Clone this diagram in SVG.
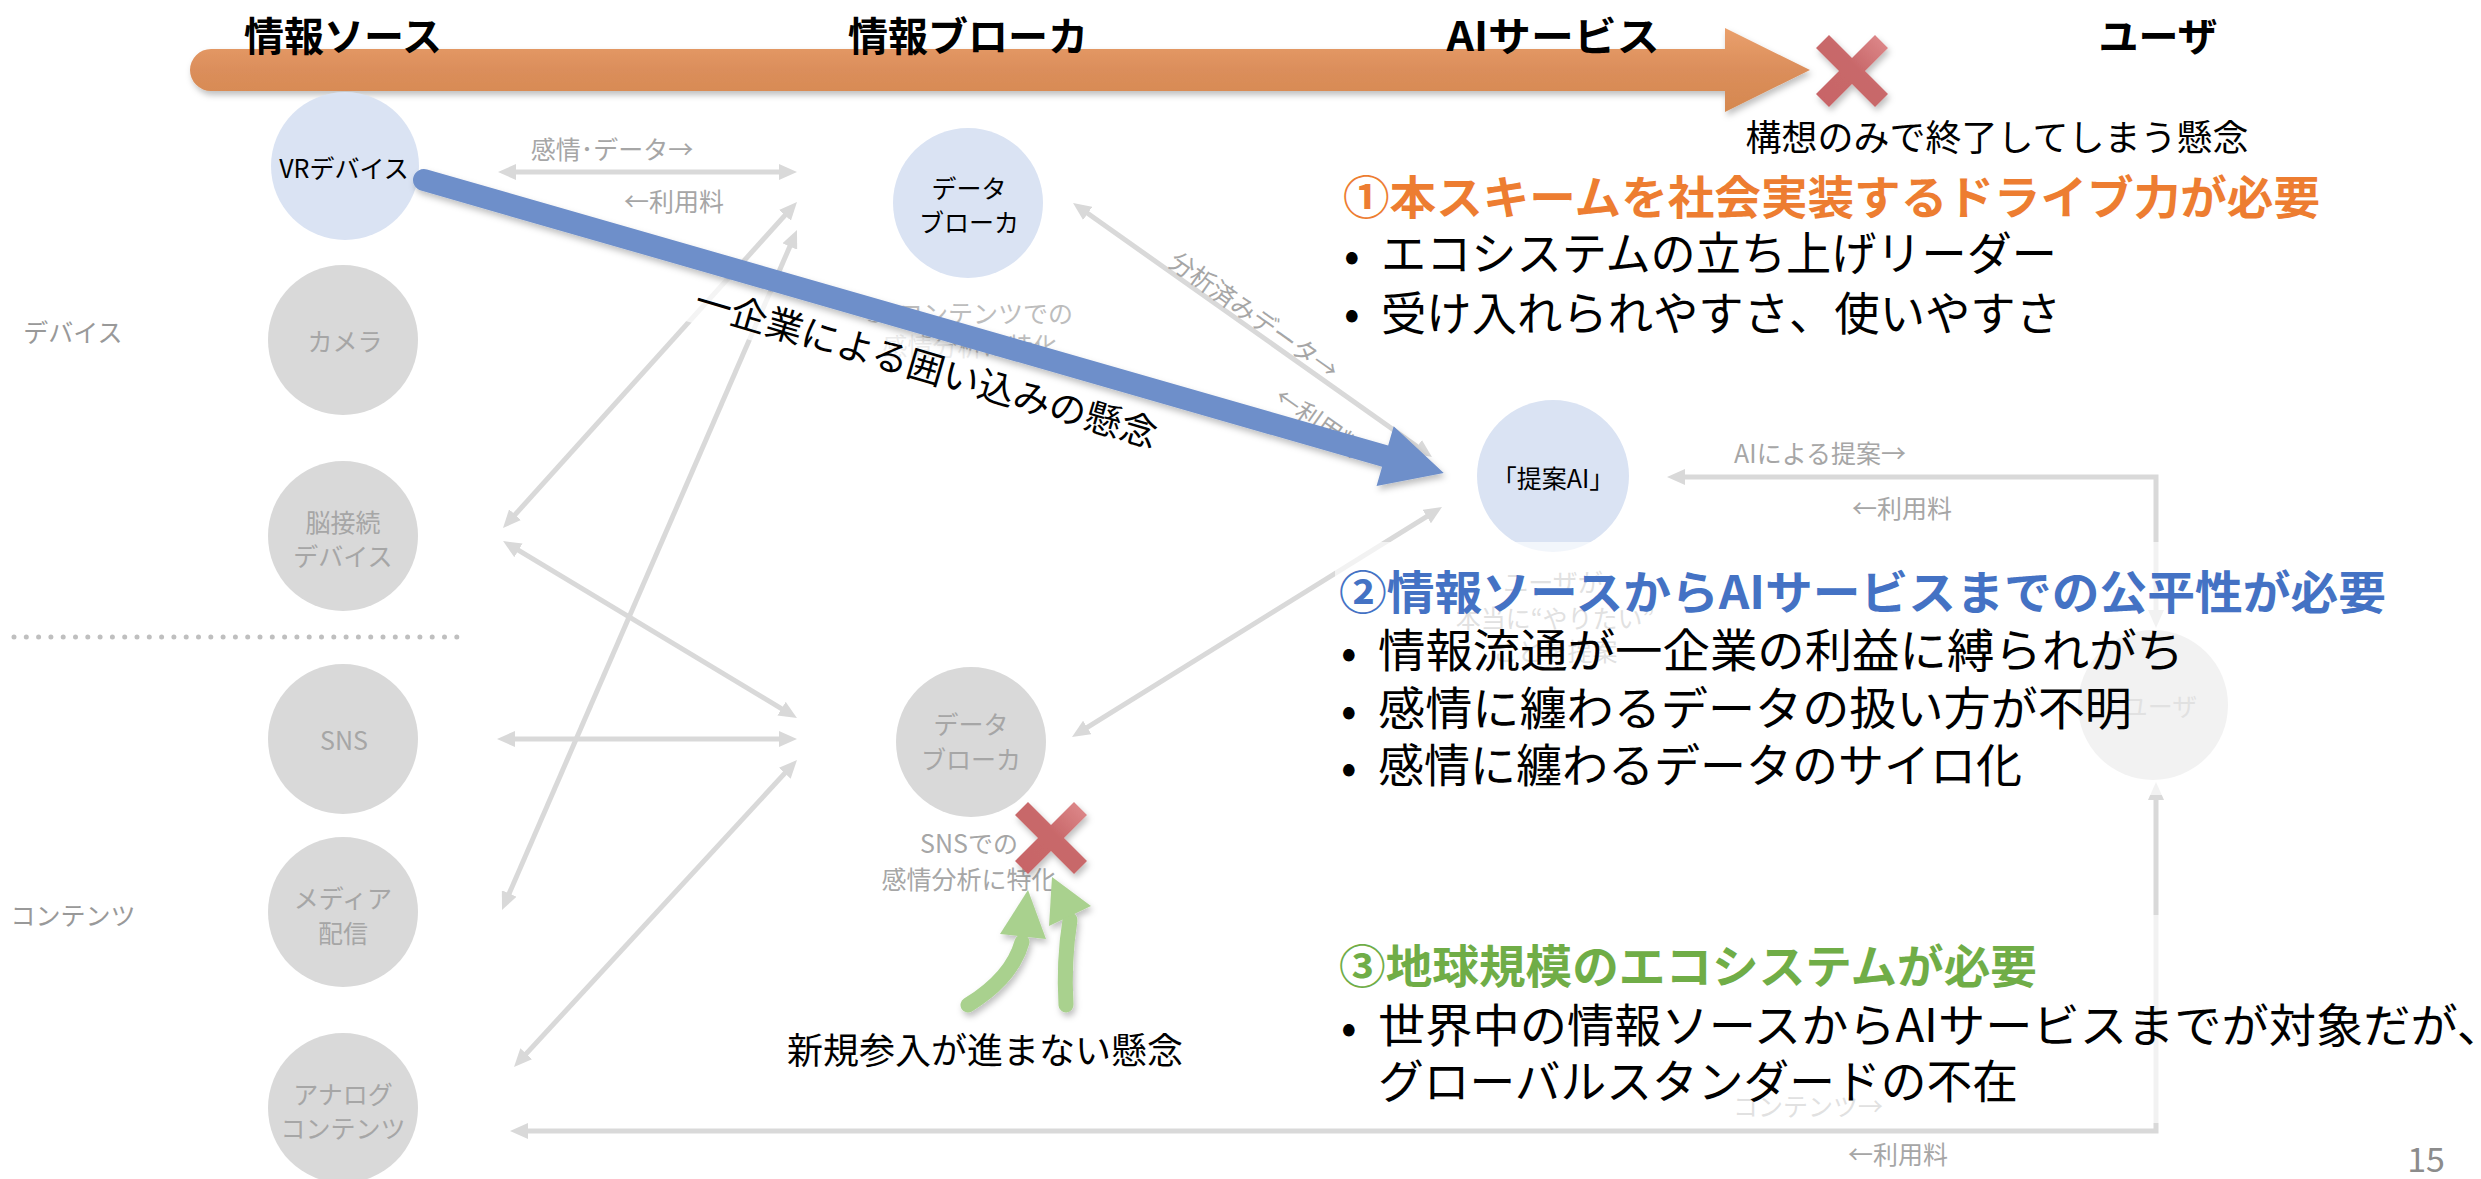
<svg xmlns="http://www.w3.org/2000/svg" width="2481" height="1179" viewBox="0 0 2481 1179">
<defs>
<style>
text{font-family:"Noto Sans CJK JP","Noto Sans",sans-serif;dominant-baseline:central;}
.hdr{font-size:40px;font-weight:700;fill:#000;text-anchor:middle;}
.nb{fill:#DAE3F3;}
.ng{fill:#D9D9D9;}
.tb{font-size:25px;fill:#000;text-anchor:middle;}
.tg{font-size:25px;fill:#A6A6A6;text-anchor:middle;}
.lbl{font-size:25px;fill:#A6A6A6;text-anchor:middle;}
.side{font-size:25px;fill:#999999;text-anchor:middle;}
.con{fill:none;stroke:#D9D9D9;stroke-width:5;marker-start:url(#ah);marker-end:url(#ah);}
.h1{font-size:46px;font-weight:700;}
.body{font-size:46px;fill:#000;}
.bul{font-size:46px;fill:#000;}
.note{font-size:36px;fill:#000;text-anchor:middle;}
.veil{fill:#FFFFFF;opacity:0.66;}
</style>
<marker id="ah" viewBox="0 0 18 16" refX="8" refY="8" markerWidth="18" markerHeight="16" markerUnits="userSpaceOnUse" orient="auto-start-reverse">
<path d="M0,0 L18,8 L0,16 Z" fill="#D9D9D9"/>
</marker>
<filter id="sh" x="-10%" y="-30%" width="120%" height="160%">
<feDropShadow dx="2" dy="4" stdDeviation="3" flood-color="#000" flood-opacity="0.25"/>
</filter>
<linearGradient id="gOr" x1="0" y1="0" x2="0" y2="1">
<stop offset="0" stop-color="#EAA06C"/>
<stop offset="0.5" stop-color="#DB8E5B"/>
<stop offset="1" stop-color="#D5884F"/>
</linearGradient>
<linearGradient id="gX" x1="1" y1="0" x2="0" y2="1">
<stop offset="0" stop-color="#E08C8E"/>
<stop offset="0.45" stop-color="#C8686A"/>
<stop offset="1" stop-color="#C86466"/>
</linearGradient>
<path id="xshape" d="M-36,-23 L-23,-36 L0,-13 L23,-36 L36,-23 L13,0 L36,23 L23,36 L0,13 L-23,36 L-36,23 L-13,0 Z"/>
</defs>

<rect x="0" y="0" width="2481" height="1179" fill="#FFFFFF"/>

<!-- top flow arrow -->
<g id="flow-arrow" filter="url(#sh)">
<path d="M1725,49 L211,49 A21,21 0 0 0 211,91 L1725,91 L1725,112 L1810,70 L1725,28 Z" fill="url(#gOr)"/>
</g>
<g id="stage-headers">
<text class="hdr" x="343" y="34">情報ソース</text>
<text class="hdr" x="968" y="34">情報ブローカ</text>
<text class="hdr" x="1553" y="34" textLength="213" lengthAdjust="spacingAndGlyphs">AIサービス</text>
<text class="hdr" x="2158" y="34">ユーザ</text>
</g>

<!-- side labels -->
<g id="side-labels">
<text class="side" x="73" y="331">デバイス</text>
<text class="side" x="73" y="914">コンテンツ</text>
<line x1="14" y1="637" x2="458" y2="637" stroke="#BFBFBF" stroke-width="5" stroke-linecap="round" stroke-dasharray="0 12.3"/>
</g>

<!-- connectors -->
<g id="connectors">
<line class="con" x1="508" y1="172" x2="787" y2="172"/>
<line class="con" x1="507" y1="739" x2="787" y2="739"/>
<line class="con" x1="509.7" y1="520.6" x2="790.3" y2="209.4"/>
<line class="con" x1="511.6" y1="546.2" x2="788.4" y2="712.8"/>
<line class="con" x1="793" y1="239.2" x2="506" y2="900.8"/>
<line class="con" x1="790.2" y1="767.4" x2="520.8" y2="1059.6"/>
<line class="con" x1="1081.2" y1="208.8" x2="1423.8" y2="451.2"/>
<line class="con" x1="1080.5" y1="731.7" x2="1433.5" y2="512.3"/>
<path class="con" d="M1677,477 L2156,477 L2156,618"/>
<path class="con" d="M2156,792 L2156,1131 L520,1131"/>
<text class="lbl" x="612" y="148">感情･データ→</text>
<text class="lbl" x="674" y="200">←利用料</text>
<text class="lbl" font-size="26" transform="translate(1255,314) rotate(35.3)">分析済みデータ→</text>
<text class="lbl" font-size="26" transform="translate(1320,421) rotate(35.3)">←利用料</text>
<text class="lbl" x="1820" y="452">AIによる提案→</text>
<text class="lbl" x="1902" y="507">←利用料</text>
<text class="lbl" x="1808" y="1105">コンテンツ→</text>
<text class="lbl" x="1898" y="1153">←利用料</text>
</g>

<!-- nodes -->
<g id="node-vr">
<circle class="nb" cx="345" cy="166" r="74"/>
<text class="tb" x="344" y="167">VRデバイス</text>
</g>
<g id="node-camera">
<circle class="ng" cx="343" cy="340" r="75"/>
<text class="tg" x="345" y="340">カメラ</text>
</g>
<g id="node-brain">
<circle class="ng" cx="343" cy="536" r="75"/>
<text class="tg" x="343" y="521">脳接続</text>
<text class="tg" x="343" y="555">デバイス</text>
</g>
<g id="node-sns">
<circle class="ng" cx="343" cy="739" r="75"/>
<text class="tg" x="344" y="739">SNS</text>
</g>
<g id="node-media">
<circle class="ng" cx="343" cy="912" r="75"/>
<text class="tg" x="343" y="897">メディア</text>
<text class="tg" x="343" y="932">配信</text>
</g>
<g id="node-analog">
<circle class="ng" cx="343" cy="1108" r="75"/>
<text class="tg" x="343" y="1093">アナログ</text>
<text class="tg" x="343" y="1127">コンテンツ</text>
</g>
<g id="node-broker-3d">
<circle class="nb" cx="968" cy="203" r="75"/>
<text class="tb" font-size="26" x="969" y="187">データ</text>
<text class="tb" font-size="26" x="969" y="221">ブローカ</text>
<text class="tg" font-size="27" fill="#BDBDBD" style="fill:#BDBDBD" x="970" y="312">3Dコンテンツでの</text>
<text class="tg" font-size="27" style="fill:#BDBDBD" x="970" y="345">感情分析に特化</text>
</g>
<g id="node-broker-sns">
<circle class="ng" cx="971" cy="742" r="75"/>
<text class="tg" font-size="26" x="971" y="723">データ</text>
<text class="tg" font-size="26" x="971" y="758">ブローカ</text>
<text class="tg" font-size="27" x="969" y="842">SNSでの</text>
<text class="tg" font-size="27" x="969" y="878">感情分析に特化</text>
</g>
<g id="node-ai">
<circle class="nb" cx="1553" cy="476" r="76"/>
<text class="tb" x="1553" y="477">「提案AI」</text>
<text class="tg" x="1553" y="581">ユーザが</text>
<text class="tg" x="1555" y="617">本当に“やりたい”</text>
<text class="tg" x="1555" y="650">ことを提案</text>
</g>
<g id="node-user">
<circle class="ng" cx="2153" cy="705" r="75"/>
<text class="tg" x="2160" y="705">ユーザ</text>
</g>

<!-- concern: lock-in -->
<g id="concern-lockin">
<rect x="-250" y="-26" width="500" height="52" fill="#FFFFFF" opacity="0.7" transform="translate(927,365) rotate(16.4)"/>
<g filter="url(#sh)">
<g transform="translate(424,180) rotate(16.03)">
<path d="M0,-11 L1000,-11 L1000,-31 L1061,0 L1000,31 L1000,11 L0,11 A11,11 0 0 1 0,-11 Z" fill="#6E8FCA"/>
</g>
</g>
<text font-size="37" fill="#000" text-anchor="middle" textLength="480" lengthAdjust="spacingAndGlyphs" transform="translate(927,365) rotate(16.4)">一企業による囲い込みの懸念</text>
</g>

<!-- concern: ends at concept -->
<g id="concern-concept">
<use href="#xshape" transform="translate(1852,71)" fill="url(#gX)" filter="url(#sh)"/>
<text class="note" x="1997" y="135">構想のみで終了してしまう懸念</text>
</g>

<!-- concern: new entrants -->
<g id="concern-entry">
<use href="#xshape" transform="translate(1051,838)" fill="url(#gX)" filter="url(#sh)"/>
<g filter="url(#sh)">
<path d="M968,1005 Q1012,978 1022,942" fill="none" stroke="#A9D18E" stroke-width="15" stroke-linecap="round"/>
<polygon points="1000,934 1028,890 1046,939" fill="#A9D18E"/>
<path d="M1066,1005 C1064,972 1066,945 1070,920" fill="none" stroke="#A9D18E" stroke-width="15" stroke-linecap="round"/>
<polygon points="1049,926 1052,877 1091,906" fill="#A9D18E"/>
</g>
<text class="note" font-size="37" x="985" y="1048">新規参入が進まない懸念</text>
</g>

<!-- block 1 -->
<g id="block-1">
<text class="h1" x="1343" y="194" fill="#ED7D31" textLength="977" lengthAdjust="spacingAndGlyphs">①本スキームを社会実装するドライブ力が必要</text>
<text class="bul" x="1344" y="252">•</text>
<text class="body" x="1381" y="250" textLength="676" lengthAdjust="spacingAndGlyphs">エコシステムの立ち上げリーダー</text>
<text class="bul" x="1344" y="310">•</text>
<text class="body" x="1381" y="310" textLength="680" lengthAdjust="spacingAndGlyphs">受け入れられやすさ、使いやすさ</text>
</g>

<!-- block 2 -->
<g id="block-2">
<rect class="veil" x="1335" y="542" width="1070" height="253"/>
<text class="h1" x="1339" y="589" fill="#4472C4" textLength="1047" lengthAdjust="spacingAndGlyphs">②情報ソースからAIサービスまでの公平性が必要</text>
<text class="bul" x="1341" y="649">•</text>
<text class="body" x="1378" y="647" textLength="806" lengthAdjust="spacingAndGlyphs">情報流通が一企業の利益に縛られがち</text>
<text class="bul" x="1341" y="707">•</text>
<text class="body" x="1378" y="705" textLength="754" lengthAdjust="spacingAndGlyphs">感情に纏わるデータの扱い方が不明</text>
<text class="bul" x="1341" y="764">•</text>
<text class="body" x="1378" y="762" textLength="644" lengthAdjust="spacingAndGlyphs">感情に纏わるデータのサイロ化</text>
</g>

<!-- block 3 -->
<g id="block-3">
<rect class="veil" x="1335" y="915" width="1146" height="208"/>
<text class="h1" x="1339" y="963" fill="#70AD47" textLength="698" lengthAdjust="spacingAndGlyphs">③地球規模のエコシステムが必要</text>
<text class="bul" x="1341" y="1024">•</text>
<text class="body" x="1378" y="1022" textLength="1126" lengthAdjust="spacingAndGlyphs">世界中の情報ソースからAIサービスまでが対象だが、</text>
<text class="body" x="1378" y="1078" textLength="640" lengthAdjust="spacingAndGlyphs">グローバルスタンダードの不在</text>
</g>

<g id="page-number">
<text x="2426" y="1157" font-size="34" fill="#8C8C8C" text-anchor="middle">15</text>
</g>
</svg>
